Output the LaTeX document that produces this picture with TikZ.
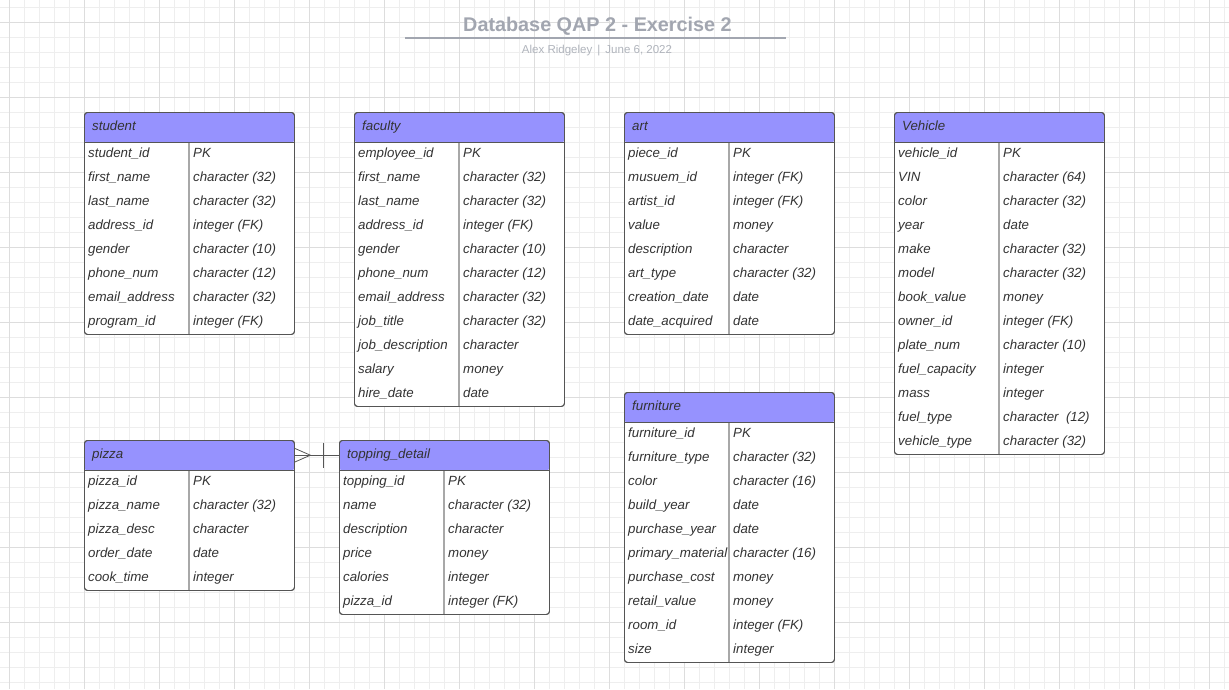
\documentclass[tikz,border=0pt]{standalone}
\usepackage{fontspec}
\setmainfont{Liberation Sans}
\usetikzlibrary{calc}
\definecolor{gridminor}{HTML}{EEEEEE}
\definecolor{gridmajor}{HTML}{DDDDDD}
\definecolor{hdrfill}{HTML}{9692FE}
\definecolor{tblborder}{HTML}{555555}
\definecolor{divline}{HTML}{A8A8A8}
\definecolor{txt}{HTML}{333333}
\definecolor{titlegray}{HTML}{A2A6B0}
\definecolor{subgray}{HTML}{B0B4BC}
\tikzset{
  tbl/.style={draw=tblborder, line width=0.9pt, fill=white, rounded corners=3pt,
    minimum width=210pt, inner sep=0pt, anchor=north west,
    path picture={\fill[hdrfill] (path picture bounding box.north west) rectangle ([yshift=-30pt]path picture bounding box.north east);}},
  hdrbox/.style={minimum width=210pt, minimum height=30pt, inner sep=0pt, anchor=north west},
  hdrtext/.style={font=\fontsize{13.3}{15}\selectfont\itshape, text=txt, inner sep=0pt, anchor=base west},
  celltext/.style={font=\fontsize{13.3}{15}\selectfont\itshape, text=txt, inner sep=0pt, anchor=base west},
  sepline/.style={draw=tblborder, line width=0.9pt},
  divider/.style={draw=divline, line width=1.4pt},
  conn/.style={draw=tblborder, line width=0.8pt},
}
% name, x, y, nrows, title, rows
\newcommand{\ertable}[6]{%
  \node[tbl, minimum height={30pt+24pt*#4}] (#1) at (#2,#3) {};
  \node[hdrbox] (#1-h) at (#2,#3) {};
  \node[hdrtext] (#1-title) at (#2+8,#3+18) {#5};
  \foreach \fa/\ty [count=\i] in {#6} {
    \node[celltext] (#1-f\i) at (#2+4,#3+30+24*\i-24+15.5) {\fa};
    \node[celltext] (#1-t\i) at (#2+109,#3+30+24*\i-24+15.5) {\ty};
  }
  \draw[divider] ([xshift=105pt]#1-h.south west) -- ([xshift=105pt]#1.south west);
  \draw[sepline] (#1-h.south west) -- (#1-h.south east);
  \node[tbl, fill=none, path picture={}, minimum height={30pt+24pt*#4}] (#1-outline) at (#2,#3) {};
}
\begin{document}
\begin{tikzpicture}[x=1pt,y=-1pt]
\useasboundingbox (0,0) rectangle (1229,689);
\fill[white] (0,0) rectangle (1229,689);
% grid
\foreach \gx in {9,24,...,1229} \draw[gridminor, line width=0.8pt] (\gx,0) -- (\gx,689);
\foreach \gy in {7,22,...,689} \draw[gridminor, line width=0.8pt] (0,\gy) -- (1229,\gy);
\foreach \gx in {9,84,...,1229} \draw[gridmajor, line width=0.9pt] (\gx,0) -- (\gx,689);
\foreach \gy in {22,97,...,689} \draw[gridmajor, line width=0.9pt] (0,\gy) -- (1229,\gy);
% title
\node[font=\fontsize{19.8}{22}\selectfont\bfseries, text=titlegray, inner sep=0pt, anchor=base] (title) at (597.5,31) {Database QAP 2 - Exercise 2};
\coordinate (tl) at (405,38);
\coordinate (tr) at (786,38);
\draw[titlegray, line width=1.6pt] (tl) -- (tr);
\node[font=\fontsize{11.5}{13}\selectfont, text=subgray, inner sep=0pt, anchor=base] (subtitle) at (597,53) {Alex Ridgeley \,|\, June 6, 2022};
% tables
\ertable{student}{84}{112}{8}{student}{student\_id/PK, first\_name/character (32), last\_name/character (32), address\_id/integer (FK), gender/character (10), phone\_num/character (12), email\_address/character (32), program\_id/integer (FK)}
\ertable{faculty}{354}{112}{11}{faculty}{employee\_id/PK, first\_name/character (32), last\_name/character (32), address\_id/integer (FK), gender/character (10), phone\_num/character (12), email\_address/character (32), job\_title/character (32), job\_description/character, salary/money, hire\_date/date}
\ertable{art}{624}{112}{8}{art}{piece\_id/PK, musuem\_id/integer (FK), artist\_id/integer (FK), value/money, description/character, art\_type/character (32), creation\_date/date, date\_acquired/date}
\ertable{vehicle}{894}{112}{13}{Vehicle}{vehicle\_id/PK, VIN/character (64), color/character (32), year/date, make/character (32), model/character (32), book\_value/money, owner\_id/integer (FK), plate\_num/character (10), fuel\_capacity/integer, mass/integer, fuel\_type/character\ \ (12), vehicle\_type/character (32)}
\ertable{pizza}{84}{440}{5}{pizza}{pizza\_id/PK, pizza\_name/character (32), pizza\_desc/character, order\_date/date, cook\_time/integer}
\ertable{topping}{339}{440}{6}{topping\_detail}{topping\_id/PK, name/character (32), description/character, price/money, calories/integer, pizza\_id/integer (FK)}
\ertable{furniture}{624}{392}{10}{furniture}{furniture\_id/PK, furniture\_type/character (32), color/character (16), build\_year/date, purchase\_year/date, primary\_material/character (16), purchase\_cost/money, retail\_value/money, room\_id/integer (FK), size/integer}
% relationship pizza >|-- topping_detail
\draw[conn] (pizza-h.east) -- (topping-h.west);
\coordinate (cfoot) at ($(pizza-h.east)+(16,0)$);
\draw[conn] ($(pizza-h.east)+(0,-7)$) -- (cfoot) -- ($(pizza-h.east)+(0,7)$);
\draw[conn] ($(pizza-h.east)+(29,-12.5)$) -- ($(pizza-h.east)+(29,12.5)$);
\end{tikzpicture}
\end{document}
